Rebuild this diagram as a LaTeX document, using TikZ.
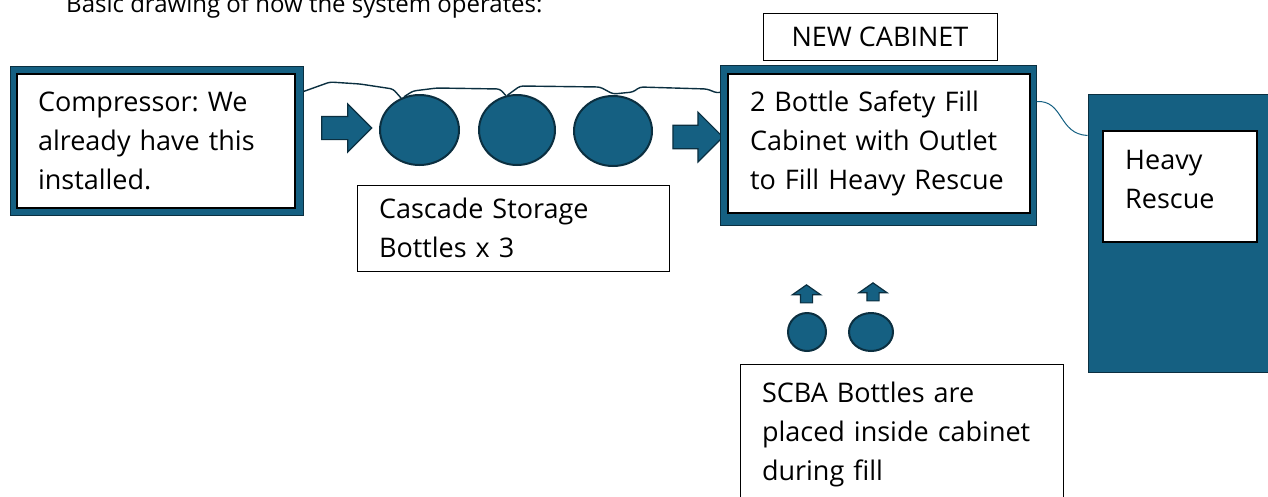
\documentclass[tikz,border=0pt]{standalone}
\usepackage{fontspec}
\setmainfont{Open Sans}
\usetikzlibrary{shapes.geometric,shapes.arrows}
\definecolor{boxblue}{HTML}{156082}
\definecolor{edgeblue}{HTML}{0B2F40}
\frenchspacing

\tikzset{
  outerbox/.style = {rectangle, draw=edgeblue, fill=boxblue, line width=1pt, inner sep=0pt},
  innerbox/.style = {rectangle, draw=black, fill=white, line width=2.5pt,
                     inner ysep=0pt, font=\fontsize{27}{39}\selectfont, align=left},
  labelbox/.style = {rectangle, draw=black, fill=white, line width=1pt,
                     inner ysep=0pt, font=\fontsize{27}{39}\selectfont, align=left},
  txt/.style      = {font=\fontsize{27}{39}\selectfont, align=left, inner sep=0pt},
  tank/.style     = {ellipse, draw=edgeblue, fill=boxblue, line width=2pt, inner sep=0pt},
  blockarrow/.style = {single arrow, draw=edgeblue, fill=boxblue, line width=1.2pt,
                       inner sep=0pt},
  pipe/.style     = {draw=edgeblue, line width=1.4pt, rounded corners=3pt},
}

\begin{document}
\begin{tikzpicture}[x=1pt, y=-1pt]
\useasboundingbox (0,0) rectangle (1268,496);

% title
\node[txt, font=\fontsize{24}{39}\selectfont, anchor=base west] (title) at (66,12)
  {Basic drawing of how the system operates:};

% compressor
\node[outerbox, minimum width=293, minimum height=149] (comp) at (156.5,140.5) {};
\node[innerbox, text width=236, inner xsep=21pt, minimum height=134] (comptext) at (156,141)
  {Compressor: We\\already have this\\installed.};

% cascade storage
\node[blockarrow, minimum height=50, minimum width=47, single arrow head extend=12.5pt,
      inner ysep=11pt] (arr1) at (341,128) {};
\node[tank, minimum width=79, minimum height=70] (tank1) at (419.5,130) {};
\node[tank, minimum width=76, minimum height=70] (tank2) at (517,130) {};
\node[tank, minimum width=78, minimum height=70] (tank3) at (613,131) {};
\node[labelbox, text width=268, inner xsep=22pt, minimum height=86] (casc) at (513,228)
  {Cascade Storage\\Bottles x 3};
\node[blockarrow, minimum height=50, minimum width=50, single arrow head extend=13pt,
      inner ysep=11pt] (arr2) at (692,137) {};

% new cabinet
\node[labelbox, minimum width=234, minimum height=47, align=center] (newcab) at (880,36.5)
  {NEW CABINET};
\node[outerbox, minimum width=316, minimum height=160] (cab) at (878,145) {};
\node[innerbox, text width=258, inner xsep=22pt, minimum height=139] (cabtext) at (879,143.5)
  {2 Bottle Safety Fill\\Cabinet with Outlet\\to Fill Heavy Rescue};

% heavy rescue
\node[outerbox, minimum width=187, minimum height=278] (hr) at (1181.5,233) {};
\node[rectangle, draw=black, fill=white, line width=2pt, minimum width=154,
      minimum height=111] (hrbox) at (1180,186.5) {};
\node[txt, anchor=west] (hrtext) at (1125,179) {Heavy\\Rescue};

% scba bottles
\node[blockarrow, shape border rotate=90, minimum height=18, minimum width=27,
      single arrow head extend=8pt, single arrow tip angle=110, inner sep=5.5pt]
      (up1) at (806.5,296) {};
\node[blockarrow, shape border rotate=90, minimum height=18, minimum width=27,
      single arrow head extend=8pt, single arrow tip angle=110, inner sep=5.5pt]
      (up2) at (873,294) {};
\node[tank, minimum width=38, minimum height=38] (scba1) at (807,332) {};
\node[tank, minimum width=44, minimum height=38] (scba2) at (871,332) {};
\node[labelbox, text width=279, inner xsep=22pt, minimum height=140] (scba) at (901.5,434)
  {SCBA Bottles are\\placed inside cabinet\\during fill};

% lines
\draw[pipe] ([yshift=-26pt]comp.north east) -- (330,82) -- (360,84) -- (393,89) -- (tank1.120);
\draw[pipe] (tank1.115) -- (413,91) -- (437,88) -- (500,89) -- (tank2.108);
\draw[pipe] (tank2.105) -- (520,86) -- (600,87) -- (613,94) -- (633,92) -- (640,87)
  -- (707,89) -- (717,93) -- ([yshift=-28pt]cab.north west);
\draw[boxblue, line width=1pt] ([yshift=-37pt]cab.north east)
  .. controls (1064,100) and (1058,134) .. ([yshift=-42pt]hr.north west);

\end{tikzpicture}
\end{document}
